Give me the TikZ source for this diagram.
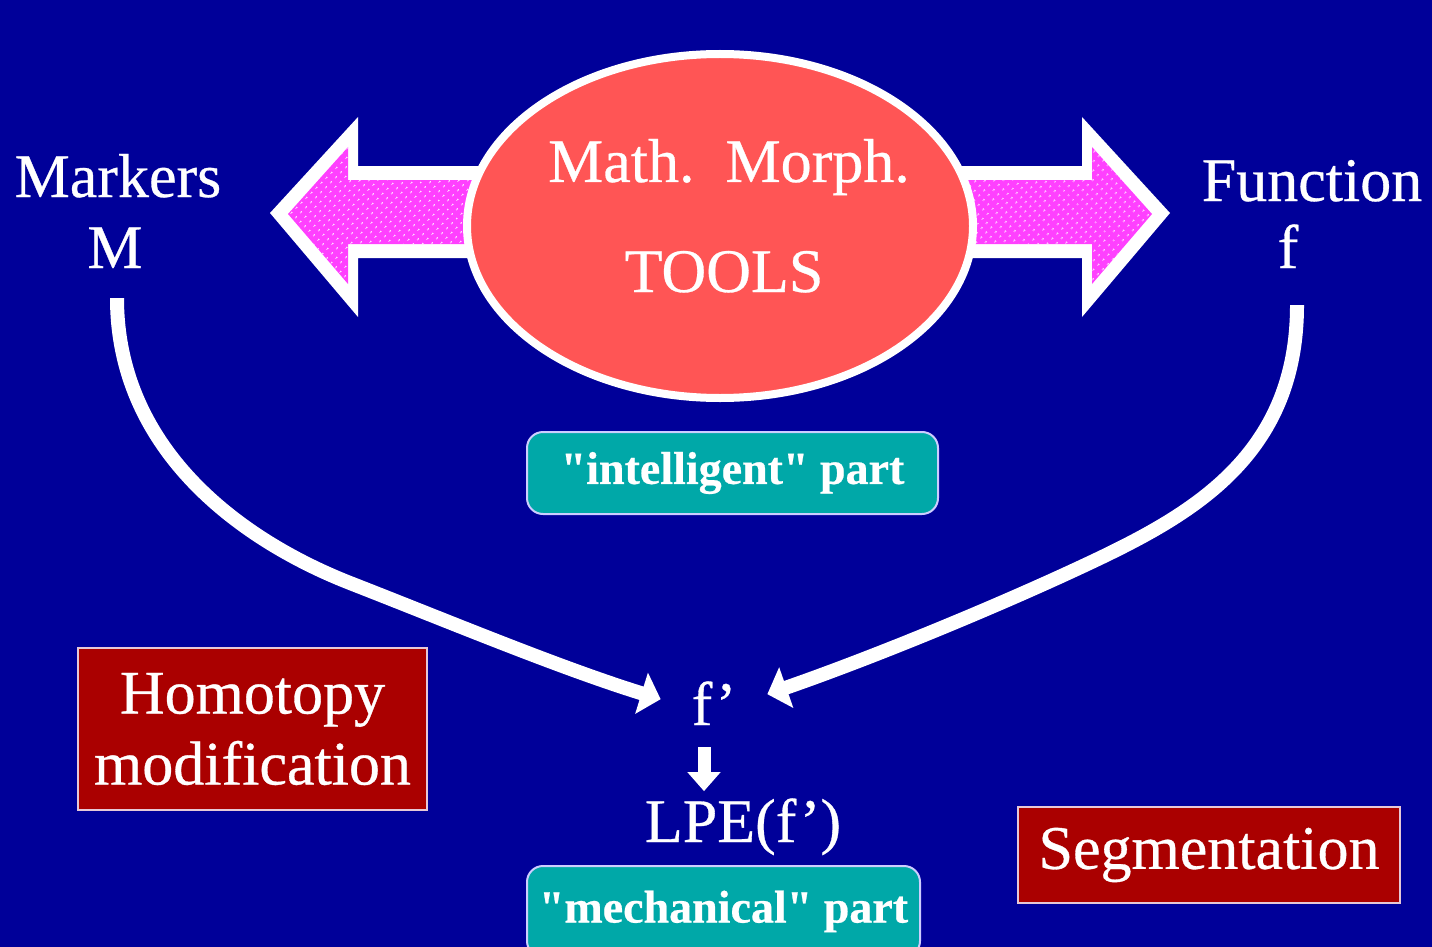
\documentclass[tikz,border=0pt]{standalone}
\usepackage{fontspec}
\setmainfont{Liberation Serif}[Ligatures=TeXOff,FakeBold=0.5]
\usetikzlibrary{shapes.geometric,arrows.meta,patterns.meta,calc}
\definecolor{bg}{RGB}{0,0,153}
\definecolor{redc}{RGB}{255,85,85}
\definecolor{pinkc}{RGB}{255,64,255}
\definecolor{tealc}{RGB}{0,168,168}
\definecolor{tealb}{RGB}{205,205,255}
\definecolor{darkred}{RGB}{170,0,0}
\definecolor{redb}{RGB}{230,200,215}
\begin{document}
\begin{tikzpicture}[x=1pt,y=-1pt,
  lbl/.style={text=white, inner sep=0pt, font=\fontsize{62}{71}\selectfont},
  tealbox/.style={draw=tealb, line width=2pt, fill=tealc, rounded corners=16pt, text=white, inner sep=0pt, font=\bfseries\fontsize{46}{52}\selectfont},
  redbox/.style={draw=redb, line width=2pt, fill=darkred, text=white, inner sep=0pt, align=center, font=\fontsize{62}{71}\selectfont},
  curvearrow/.style={draw=white, line width=14pt, -{Triangle[length=20pt,width=42pt]}},
  downarrow/.style={draw=white, line width=13pt, -{Triangle[length=19pt,width=32pt]}},
  outline/.style={fill=white},
  dotted fill/.style={fill=pinkc, postaction={pattern={Dots[distance=6.5pt,radius=1.1pt,angle=45]}, pattern color=white}}
]
\clip (0,0) rectangle (1432,947);
\fill[bg] (0,0) rectangle (1432,947);

% left double-outlined arrow
\path[outline] (270,213) -- (358,117) -- (358,166) -- (530,166) -- (530,258) -- (358,258) -- (358,317) -- cycle;
\path[dotted fill] (288,214) -- (348,147) -- (348,180) -- (530,180) -- (530,244) -- (348,244) -- (348,284) -- cycle;
% right arrow
\path[outline] (1170,213) -- (1082,117) -- (1082,166) -- (910,166) -- (910,258) -- (1082,258) -- (1082,317) -- cycle;
\path[dotted fill] (1152,214) -- (1092,147) -- (1092,180) -- (910,180) -- (910,244) -- (1092,244) -- (1092,284) -- cycle;

% ellipse
\node[ellipse, draw=white, line width=8pt, fill=redc, minimum width=506pt, minimum height=344pt, inner sep=0pt] (tools) at (720,226) {};
\node[lbl, anchor=base] (math) at (729,182) {Math.~~Morph.};
\node[lbl, anchor=base] (toolsl) at (724,292) {TOOLS};

% side labels
\node[lbl, anchor=base] (markers) at (118,197) {Markers};
\node[lbl, anchor=base] (mL) at (115,268) {M};
\node[lbl, anchor=base] (func) at (1312,201) {Function};
\node[lbl, anchor=base] (fL) at (1288,268) {f};

% teal labels
\node[tealbox, minimum width=411pt, minimum height=82pt] (intel) at (732.5,473) {"intelligent" part};
\node[tealbox, minimum width=393pt, minimum height=91pt] (mech) at (723.5,911.5) {"mechanical" part};

% f' and LPE
\node[lbl, anchor=base, outer xsep=31pt] (fp) at (714,725) {f’};
\node[lbl, anchor=base] (lpe) at (743,842) {LPE(f’)};

% red boxes
\node[redbox, minimum width=349pt, minimum height=162pt] (homo) at (252.5,729) {Homotopy\\modification};
\node[redbox, minimum width=382pt, minimum height=96pt] (seg) at (1209,855) {Segmentation};

% connectors
\draw[curvearrow] ([yshift=-30pt,xshift=2pt]mL.south) .. controls (117,448) and (238,539) .. (350,583)
   .. controls (450,622) and (560,668) .. ([yshift=4pt]fp.west);
\draw[curvearrow] ([xshift=9pt,yshift=-37pt]fL.south) .. controls (1297,450) and (1200,510) .. (1100,558)
   .. controls (1010,601) and (880,655) .. ([yshift=9pt]fp.east);
\draw[downarrow] ($(fp.south)+(-10,22)$) -- ($(fp.south |- lpe.north)+(-10,-7)$);
\end{tikzpicture}
\end{document}
